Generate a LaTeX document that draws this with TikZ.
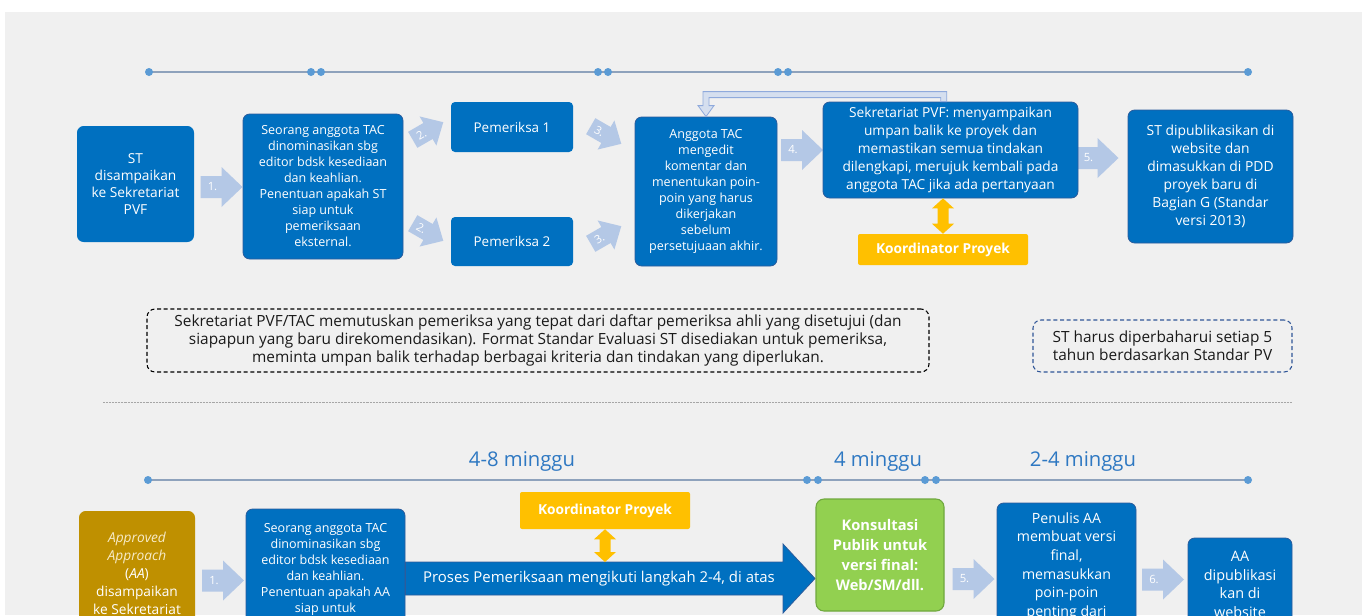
\documentclass[tikz,border=0pt]{standalone}
\usepackage{fontspec}
\setmainfont{Open Sans}
\usetikzlibrary{calc}
\definecolor{bgc}{HTML}{F0F0F0}
\definecolor{tacblue}{HTML}{0070C0}
\definecolor{boxedge}{HTML}{2C5C9C}
\definecolor{lblue}{HTML}{B4C8E6}
\definecolor{orng}{HTML}{FFC000}
\definecolor{gold}{HTML}{BF9000}
\definecolor{cream}{HTML}{F7EBC8}
\definecolor{grn}{HTML}{92D050}
\definecolor{grnedge}{HTML}{6FA83E}
\definecolor{tline}{HTML}{8EA2BC}
\definecolor{tdot}{HTML}{5B9BD5}
\definecolor{tlabel}{HTML}{2E78C2}
\definecolor{fbfill}{HTML}{D5DFEF}
\definecolor{fbedge}{HTML}{8FAADC}
\definecolor{dashblue}{HTML}{2F5597}
\definecolor{notetext}{HTML}{1A1A1A}
\newcommand\fs[2]{\fontsize{#1}{#2}\selectfont}
% name, x, y, angle, scale, label
\newcommand\blockarrow[6]{%
  \pgfmathsetmacro\lblsize{8.5/#5}%
  \begin{scope}[shift={(#2,#3)}, rotate=#4, scale=#5]
    \fill[lblue] (-21,-11) -- (0,-11) -- (0,-20) -- (21,0) -- (0,20) -- (0,11) -- (-21,11) -- cycle;
    \node[arrowlabel, font=\fs{\lblsize}{10}] (#1) at (-9,0) {#6};
  \end{scope}}
\newcommand\vdarrow[2]{%
  \fill[orng] (#1) -- ($(#1)+(11,10)$) -- ($(#1)+(5.5,10)$) -- ($(#2)+(5.5,-10)$) -- ($(#2)+(11,-10)$) -- (#2)
     -- ($(#2)+(-11,-10)$) -- ($(#2)+(-5.5,-10)$) -- ($(#1)+(-5.5,10)$) -- ($(#1)+(-11,10)$) -- cycle;}
\begin{document}
\begin{tikzpicture}[x=0.75pt,y=-0.75pt,
  bluebox/.style={draw=boxedge, fill=tacblue, rounded corners=5pt, line width=0.6pt, inner sep=0pt, text=white, align=center},
  sz/.style 2 args={minimum width=#1*0.75pt, minimum height=#2*0.75pt},
  kp/.style={fill=orng, rounded corners=1.5pt, inner sep=0pt, text=white, font=\fs{10.3}{12}\bfseries},
  dot/.style={circle, fill=tdot, inner sep=0pt, minimum size=6pt},
  tl/.style={draw=tline, line width=1.1pt},
  arrowlabel/.style={text=white, transform shape, inner sep=0pt},
  note/.style={rounded corners=6pt, line width=0.8pt, align=center, inner sep=0pt, dash pattern=on 3pt off 2pt},
  tlab/.style={text=tlabel, font=\fs{15.2}{18}},
  boxtext/.style={text=white, align=center, inner sep=0pt, anchor=north}
]
\useasboundingbox (0,0) rectangle (1368,615);
\fill[white] (0,0) rectangle (1368,615);
\fill[bgc] (5,12) rectangle (1362,615);

% ---------- top timeline ----------
\draw[tl] (149,72) -- (1248,72);
\foreach \n/\x in {t1/149,t2/311,t3/321,t4/598,t5/608,t6/778,t7/788,t8/1248}
  \node[dot] (\n) at (\x,72) {};

% ---------- top flow arrows ----------
\blockarrow{a1}{221.5}{187}{0}{1}{1.}
\blockarrow{a2u}{428}{131}{30}{0.84}{2.}
\blockarrow{a2d}{428}{232}{-30}{0.84}{2.}
\blockarrow{a3u}{606}{135}{-30}{0.84}{3.}
\blockarrow{a3d}{606}{235}{30}{0.84}{3.}
\blockarrow{a4}{802}{150}{0}{1}{4.}
\blockarrow{a5}{1097.5}{158}{0}{1}{5.}

% ---------- top boxes ----------
\node[bluebox, draw=none, sz={117}{116}, font=\fs{10.3}{12.75}] (A) at (135.5,184)
  {ST\\disampaikan\\ke Sekretariat\\PVF};
\node[bluebox, sz={160}{145}, font=\fs{9.4}{12}] (B) at (323,186.5)
  {Seorang anggota TAC\\dinominasikan sbg\\editor bdsk kesediaan\\dan keahlian.\\Penentuan apakah ST\\siap untuk\\pemeriksaan\\eksternal.};
\node[bluebox, draw=none, rounded corners=3pt, sz={122}{50}, font=\fs{10.1}{12}] (P1) at (512,127) {Pemeriksa 1};
\node[bluebox, draw=none, rounded corners=3pt, sz={122}{49}, font=\fs{10.1}{12}] (P2) at (512,241.5) {Pemeriksa 2};
\node[bluebox, sz={142}{149}, font=\fs{9.4}{12}] (C) at (706,191.5)
  {Anggota TAC\\mengedit\\komentar dan\\menentukan poin-\\poin yang harus\\dikerjakan\\sebelum\\persetujuaan akhir.};
\node[bluebox, sz={255}{96}, font=\fs{10.3}{13.5}] (D) at (950.5,150)
  {Sekretariat PVF: menyampaikan\\umpan balik ke proyek dan\\memastikan semua tindakan\\dilengkapi, merujuk kembali pada\\anggota TAC jika ada pertanyaan};
\node[kp, sz={170}{31}] (KP1) at (943,249.5) {Koordinator Proyek};
\node[bluebox, sz={165}{133}, font=\fs{10.4}{13.5}] (E) at (1210.5,176.5)
  {ST dipublikasikan di\\website dan\\dimasukkan di PDD\\proyek baru di\\Bagian G (Standar\\versi 2013)};

% feedback connector D -> C
\coordinate (fbR) at ([xshift=-5pt]D.north);
\coordinate (fbL) at (C.north);
\filldraw[fill=fbfill, draw=fbedge, line width=0.6pt]
  ($(fbR)+(3,0)$) -- ($(fbR)+(3,-10)$) -- ($(fbL)+(-3,-25)$) -- ($(fbL)+(-3,-11)$) -- ($(fbL)+(-8,-11)$)
  -- (fbL) -- ($(fbL)+(8,-11)$) -- ($(fbL)+(3,-11)$) -- ($(fbL)+(3,-19)$) -- ($(fbR)+(-3,-4)$) -- ($(fbR)+(-3,0)$) -- cycle;

% orange double arrow D <-> KP1
\coordinate (o1t) at (KP1.north |- D.south);
\coordinate (o1b) at (KP1.north);
\vdarrow{o1t}{o1b}

% ---------- notes ----------
\node[note, draw=black, text=notetext, sz={782}{63}, font=\fs{11.55}{13.5}] (N1) at (538,340.5)
  {Sekretariat PVF/TAC memutuskan pemeriksa yang tepat dari daftar pemeriksa ahli yang disetujui (dan\\siapapun yang baru direkomendasikan). Format Standar Evaluasi ST disediakan untuk pemeriksa,\\meminta umpan balik terhadap berbagai kriteria dan tindakan yang diperlukan.};
\node[note, draw=dashblue, text=notetext, sz={259}{52}, font=\fs{11.55}{13.5}] (N2) at (1162.5,346)
  {ST harus diperbaharui setiap 5\\tahun berdasarkan Standar PV};

% separator
\coordinate (sepL) at (103,402);
\coordinate (sepR) at (1292,402);
\draw[gray!70, line width=0.6pt, dash pattern=on 0.6pt off 0.5pt] (sepL) -- (sepR);

% ---------- bottom timeline ----------
\node[tlab] (L1) at (522,461) {4-8 minggu};
\node[tlab] (L2) at (878,461) {4 minggu};
\node[tlab] (L3) at (1083,461) {2-4 minggu};
\draw[tl] (148,480) -- (1248,480);
\foreach \n/\x in {u1/148,u2/807,u3/818,u4/925,u5/936,u6/1248}
  \node[dot] (\n) at (\x,480) {};

% ---------- bottom flow ----------
\blockarrow{b1}{223}{580.5}{0}{1}{1.}
\blockarrow{b5}{973.5}{579}{0}{1}{5.}
\blockarrow{b6}{1163}{579.5}{0}{1}{6.}

\node[fill=gold, rounded corners=5pt, inner sep=0pt, sz={116}{129}] (AA) at (137,575.5) {};
\node[boxtext, font=\fs{10.3}{13.5}] (AAt) at (137,532)
  {\textcolor{cream}{\itshape Approved}\\\textcolor{cream}{\itshape Approach}\\(\textit{AA})\\disampaikan\\ke Sekretariat};

\node[bluebox, sz={159}{171}] (B2) at (325.5,594.5) {};
\node[boxtext, font=\fs{9.4}{12}] (B2t) at (325.5,523)
  {Seorang anggota TAC\\dinominasikan sbg\\editor bdsk kesediaan\\dan keahlian.\\Penentuan apakah AA\\siap untuk};

% big process arrow
\filldraw[fill=tacblue, draw=boxedge, line width=0.6pt]
  (B2.east |- 0,562) -- (783,562) -- (783,544) -- (815,578.5) -- (783,613) -- (783,595) -- (B2.east |- 0,595) -- cycle;
\node[text=white, font=\fs{11.2}{13}, inner sep=0pt] (proc) at (599,578.5) {Proses Pemeriksaan mengikuti langkah 2-4, di atas};
\coordinate (bodytop) at (605,562);

\node[kp, sz={170}{37}] (KP2) at (605,510.5) {Koordinator Proyek};
\coordinate (o2t) at (KP2.south);
\coordinate (o2b) at (KP2.south |- bodytop);
\vdarrow{o2t}{o2b}

\node[fill=grn, draw=grnedge, line width=0.8pt, rounded corners=6pt, sz={128}{112}, text=white, align=center, inner sep=0pt, font=\fs{11}{15}\bfseries] (G) at (880,555)
  {Konsultasi\\Publik untuk\\versi final:\\Web/SM/dll.};

\node[bluebox, sz={139}{177}] (W) at (1066.5,591.5) {};
\node[boxtext, font=\fs{10.6}{14}] (Wt) at (1066.5,512)
  {Penulis AA\\membuat versi\\final,\\memasukkan\\poin-poin\\penting dari};

\node[bluebox, sz={104}{142}] (P) at (1240,609) {};
\node[boxtext, font=\fs{10.8}{14}] (Pt) at (1240,551)
  {AA\\dipublikasi\\kan di\\website};
\end{tikzpicture}
\end{document}
